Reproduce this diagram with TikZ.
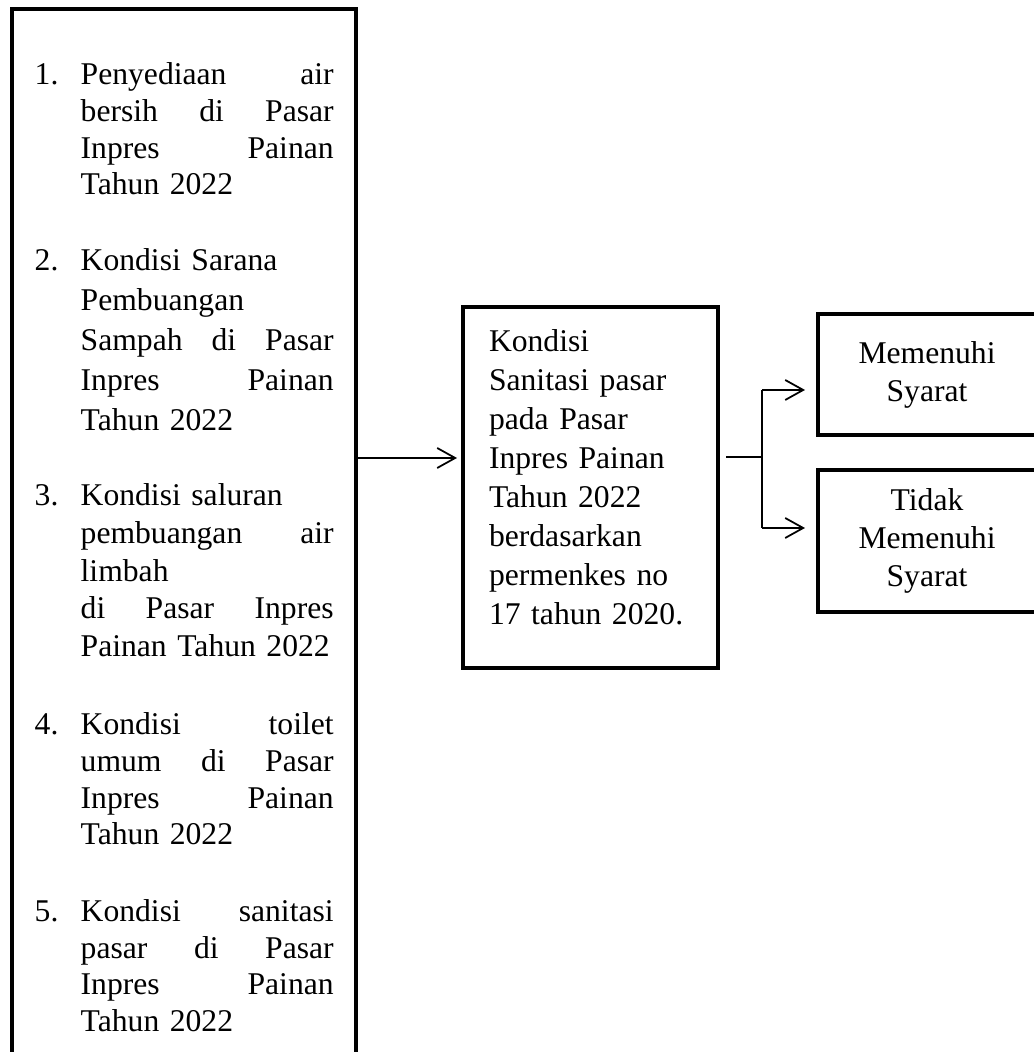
\documentclass[tikz,border=0pt]{standalone}
\usepackage{fontspec}
\setmainfont{Liberation Serif}
\usetikzlibrary{arrows.meta}

\begin{document}
\begin{tikzpicture}[
    box/.style  = {draw, line width=1.3pt, inner sep=0pt, outer sep=0pt},
    res/.style  = {box, anchor=north west, align=center, minimum width=2.18cm,
                   font=\fontsize{9}{10.8}\selectfont},
    num/.style  = {anchor=base west, inner sep=0pt, font=\fontsize{9}{10.4}\selectfont},
    item/.style = {num, text width=2.53cm, align=left},
    arr/.style  = {-{Straight Barb[length=0.18cm, width=0.2cm]}, line width=0.5pt}
  ]
    \useasboundingbox (0,0) rectangle (10.33,10.52);

    \node[box, anchor=north west, minimum width=3.44cm, minimum height=11cm]
          (daftar) at (0.12,10.43) {};

    \node[num]  (n1) at (0.34,9.67) {1.};
    \node[item] (t1) at (0.80,9.67)
          {Penyediaan\hfill air\\ bersih\hfill di\hfill Pasar\\ Inpres\hfill Painan\\ Tahun 2022};
    \node[num]  (n2) at (0.34,7.813) {2.};
    \node[item, font=\fontsize{9}{11.4}\selectfont] (t2) at (0.80,7.813)
          {Kondisi Sarana\\ Pembuangan\\ Sampah\hfill di\hfill Pasar\\ Inpres\hfill Painan\\ Tahun 2022};
    \node[num]  (n3) at (0.34,5.46) {3.};
    \node[item, font=\fontsize{9}{10.7}\selectfont] (t3) at (0.80,5.46)
          {Kondisi saluran\\ pembuangan\hfill air\\ limbah\\ di\hfill Pasar\hfill Inpres\\ Painan Tahun 2022};
    \node[num]  (n4) at (0.34,3.17) {4.};
    \node[item] (t4) at (0.80,3.17)
          {Kondisi\hfill toilet\\ umum\hfill di\hfill Pasar\\ Inpres\hfill Painan\\ Tahun 2022};
    \node[num]  (n5) at (0.34,1.303) {5.};
    \node[item] (t5) at (0.80,1.303)
          {Kondisi\hfill sanitasi\\ pasar\hfill di\hfill Pasar\\ Inpres\hfill Painan\\ Tahun 2022};

    \node[box, anchor=base west, inner xsep=0.26cm, text width=2.03cm, align=left,
          text height=0.447cm, text depth=3.163cm, font=\fontsize{9}{11.1}\selectfont]
          (kondisi) at (4.63,7.003)
          {Kondisi\\ Sanitasi pasar\\ pada Pasar\\ Inpres Painan\\ Tahun 2022\\
           berdasarkan\\ permenkes no\\ 17 tahun 2020.};

    \node[res, minimum height=1.21cm] (memenuhi) at (8.18,7.38) {Memenuhi\\ Syarat};
    \node[res, minimum height=1.42cm] (tidak)    at (8.18,5.82) {Tidak\\ Memenuhi\\ Syarat};

    \coordinate (lvl)  at (0,5.94);
    \coordinate (cab)  at (7.62,5.95);
    \coordinate (cabA) at (7.62,6.62);
    \coordinate (cabB) at (7.62,5.24);

    \draw[arr, shorten >=0.06cm] (daftar.east |- lvl) -- (kondisi.west |- lvl);
    \draw[line width=0.5pt, shorten <=0.08cm] (kondisi.east |- cab) -- (cab);
    \draw[line width=0.5pt] (cabA) -- (cabB);
    \draw[arr, shorten >=0.13cm] (cabA) -- (memenuhi.west |- cabA);
    \draw[arr, shorten >=0.13cm] (cabB) -- (tidak.west |- cabB);
\end{tikzpicture}
\end{document}
